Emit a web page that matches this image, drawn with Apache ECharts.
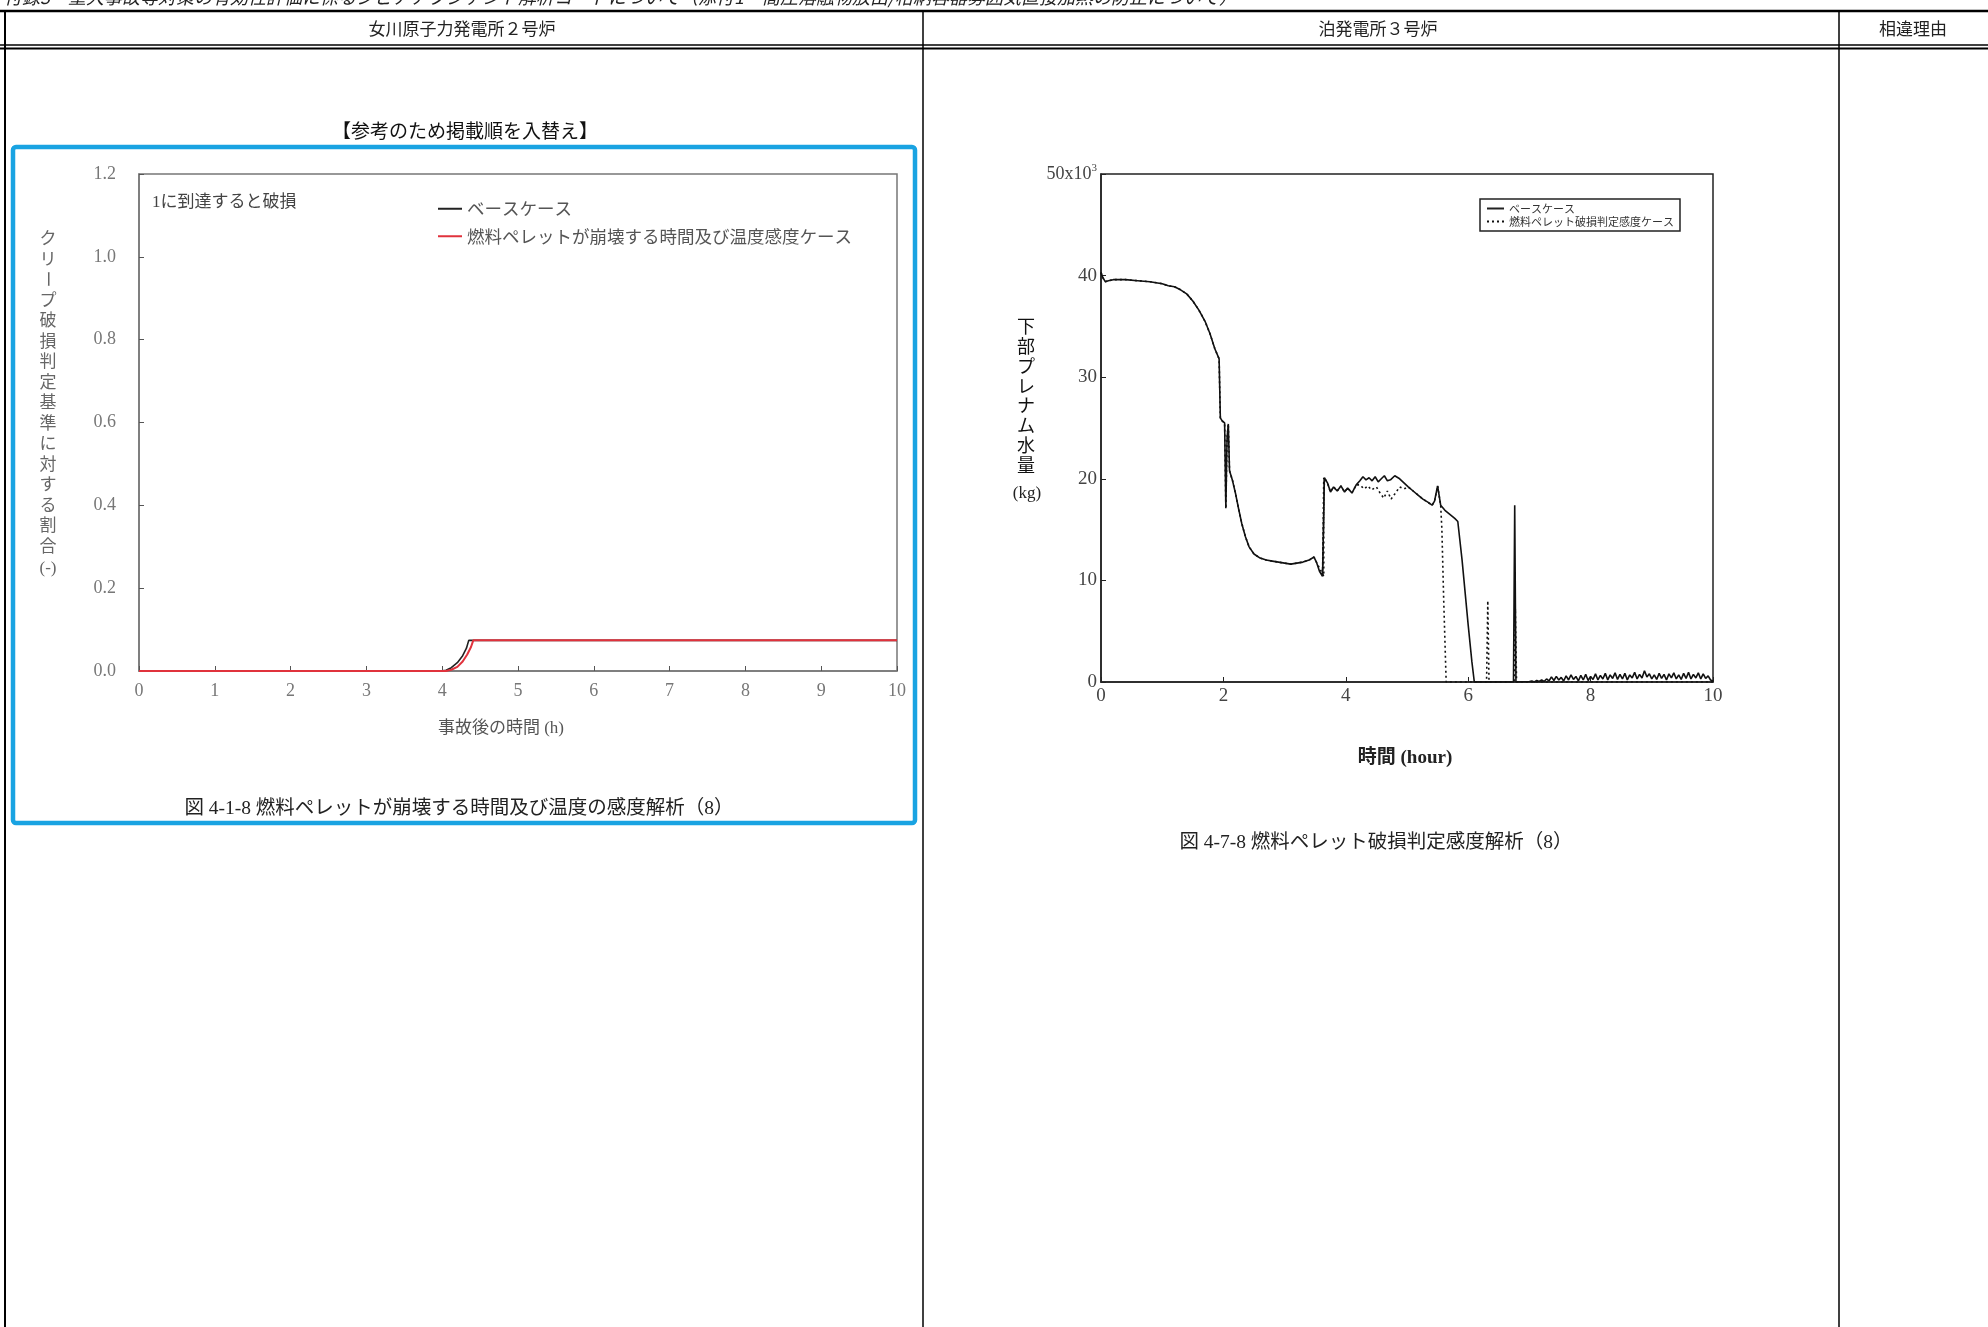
<!DOCTYPE html>
<html>
<head>
<meta charset="utf-8">
<title>燃料ペレット感度解析（8）</title>
<script src="https://cdn.jsdelivr.net/npm/echarts@6/dist/echarts.min.js"></script>
<style>
  html, body { margin: 0; padding: 0; background: #fff; }
  #main { width: 1988px; height: 1327px; }
</style>
</head>
<body>
<div id="main"></div>
<script>
// ---- 女川原子力発電所２号炉：クリープ破損判定基準に対する割合 ----
const onagawaTicksX = [0, 1, 2, 3, 4, 5, 6, 7, 8, 9, 10];
const onagawaTicksY = [0.0, 0.2, 0.4, 0.6, 0.8, 1.0, 1.2];
const onagawaBase = [
  [0, 0], [3.98, 0], [4.05, 0.002], [4.12, 0.008], [4.2, 0.02],
  [4.27, 0.037], [4.32, 0.055], [4.35, 0.074], [10, 0.074]
];
const onagawaSens = [
  [0, 0], [4.05, 0], [4.12, 0.003], [4.2, 0.01], [4.27, 0.023],
  [4.33, 0.04], [4.38, 0.058], [4.41, 0.074], [10, 0.074]
];

// ---- 泊発電所３号炉：下部プレナム水量（×10^3 kg） ----
const tomariTicksX = [0, 2, 4, 6, 8, 10];
const tomariTicksY = [0, 10, 20, 30, 40, 50];
const tomariCommon = [
  [0, 40.3], [0.03, 39.8], [0.07, 39.4], [0.12, 39.5], [0.2, 39.6], [0.4, 39.6],
  [0.6, 39.5], [0.8, 39.4], [1.0, 39.2], [1.1, 39.0], [1.2, 38.9], [1.3, 38.6],
  [1.4, 38.2], [1.5, 37.5], [1.6, 36.6], [1.7, 35.5], [1.78, 34.3], [1.86, 32.8],
  [1.93, 31.8], [1.95, 26.0], [1.98, 25.7], [2.02, 25.5], [2.04, 17.1], [2.06, 24.0],
  [2.08, 25.4], [2.1, 20.8], [2.15, 19.8], [2.2, 18.5], [2.25, 17.0], [2.3, 15.6],
  [2.36, 14.3], [2.42, 13.3], [2.5, 12.6], [2.6, 12.2], [2.7, 12.0], [2.8, 11.9],
  [2.9, 11.8], [3.0, 11.7], [3.1, 11.6], [3.2, 11.7], [3.3, 11.8], [3.4, 12.0],
  [3.48, 12.3], [3.52, 11.8], [3.57, 10.9], [3.62, 10.4], [3.65, 20.1], [3.7, 19.6],
  [3.75, 18.7], [3.8, 19.2], [3.86, 18.8], [3.92, 19.3], [3.98, 18.7], [4.03, 19.1],
  [4.1, 18.6], [4.17, 19.4]
];
const tomariBaseTail = [
  [4.23, 19.8], [4.28, 20.2], [4.33, 19.9], [4.38, 20.1], [4.43, 19.8], [4.48, 20.2],
  [4.53, 19.7], [4.58, 20.0], [4.63, 20.3], [4.68, 19.8], [4.73, 19.9], [4.8, 20.3],
  [4.88, 20.0], [4.95, 19.6], [5.02, 19.2], [5.1, 18.8], [5.18, 18.4], [5.26, 18.0],
  [5.34, 17.7], [5.41, 17.4], [5.45, 17.8], [5.5, 19.3], [5.55, 17.4], [5.62, 16.9],
  [5.7, 16.5], [5.78, 16.1], [5.83, 15.8], [5.9, 12.0], [6.0, 5.6], [6.06, 2.0],
  [6.1, 0], [6.74, 0], [6.76, 17.4], [6.78, 0], [7.0, 0.05],
  [7.04, 0.1], [7.08, 0.0], [7.12, 0.15], [7.16, 0.05], [7.2, 0.2], [7.24, 0.05],
  [7.28, 0.3], [7.32, 0.1], [7.36, 0.5], [7.4, 0.15], [7.44, 0.55], [7.48, 0.2],
  [7.52, 0.45], [7.56, 0.1], [7.6, 0.6], [7.64, 0.2], [7.68, 0.7], [7.72, 0.25],
  [7.76, 0.55], [7.8, 0.1], [7.84, 0.65], [7.88, 0.2], [7.92, 0.75], [7.96, 0.15],
  [8.0, 0.55], [8.04, 0.25], [8.08, 0.8], [8.12, 0.2], [8.16, 0.65], [8.2, 0.3],
  [8.24, 0.85], [8.28, 0.2], [8.32, 0.7], [8.36, 0.35], [8.4, 0.9], [8.44, 0.25],
  [8.48, 0.75], [8.52, 0.3], [8.56, 0.85], [8.6, 0.2], [8.64, 0.7], [8.68, 0.4],
  [8.72, 0.95], [8.76, 0.3], [8.8, 0.75], [8.84, 0.4], [8.88, 1.1], [8.92, 0.5],
  [8.96, 0.8], [9.0, 0.3], [9.04, 0.7], [9.08, 0.25], [9.12, 0.85], [9.16, 0.35],
  [9.2, 0.75], [9.24, 0.2], [9.28, 0.8], [9.32, 0.4], [9.36, 0.9], [9.4, 0.3],
  [9.44, 0.7], [9.48, 0.25], [9.52, 0.85], [9.56, 0.35], [9.6, 0.95], [9.64, 0.3],
  [9.68, 0.75], [9.72, 0.4], [9.76, 0.9], [9.8, 0.3], [9.84, 0.8], [9.88, 0.35],
  [9.92, 0.6], [9.96, 0.2], [10, 0.1]
];
const tomariSensTail = [
  [4.23, 19.4], [4.3, 19.0], [4.36, 19.3], [4.42, 18.9], [4.5, 19.2], [4.56, 18.6],
  [4.62, 18.1], [4.68, 18.8], [4.74, 18.0], [4.8, 18.5], [4.88, 19.2], [4.95, 19.0],
  [5.02, 19.2], [5.1, 18.8], [5.18, 18.4], [5.26, 18.0], [5.34, 17.7], [5.41, 17.4],
  [5.45, 17.8], [5.5, 19.3], [5.55, 17.4], [5.57, 15.0], [5.6, 8.0], [5.64, 0],
  [6.3, 0], [6.32, 8.0], [6.34, 0], [6.75, 0], [6.77, 7.2], [6.79, 0], [10, 0]
];

const nameBase = 'ベースケース';
const nameOnagawaSens = '燃料ペレットが崩壊する時間及び温度感度ケース';
const nameTomariSens = '燃料ペレット破損判定感度ケース';

const SERIF = '"Liberation Serif", "DejaVu Serif", "Noto Sans CJK JP", serif';
const JP = '"Noto Sans CJK JP", "Liberation Serif", sans-serif';

// Vertical (tategaki) label: one text element per character, long vowel mark turned upright.
function verticalText(str, x, y0, step, style) {
  return Array.from(str).map((ch, i) => ({
    type: 'text',
    x: x,
    y: y0 + i * step,
    rotation: ch === 'ー' ? -Math.PI / 2 : 0,
    style: Object.assign({ text: ch, align: 'center', verticalAlign: 'middle' }, style)
  }));
}

function txt(text, x, y, size, color, extra) {
  return {
    type: 'text', x: x, y: y,
    style: Object.assign({
      text: text, align: 'center', verticalAlign: 'middle',
      fontSize: size, fontFamily: JP, fill: color
    }, extra || {})
  };
}

function line(x1, y1, x2, y2, w) {
  return { type: 'line', shape: { x1, y1, x2, y2 }, style: { stroke: '#000', lineWidth: w } };
}

const graphics = [
  // page header and table rules
  txt('付録3　重大事故等対策の有効性評価に係るシビアアクシデント解析コードについて（添付1　高圧溶融物放出/格納容器雰囲気直接加熱の防止について）',
      4, -3, 18, '#222', { align: 'left', fontStyle: 'italic' }),
  line(0, 11, 1988, 11, 2.5),
  line(0, 45, 1988, 45, 1.5),
  line(0, 48.5, 1988, 48.5, 2),
  line(5, 11, 5, 1327, 2),
  line(923, 11, 923, 1327, 1.5),
  line(1839, 11, 1839, 1327, 1.5),
  txt('女川原子力発電所２号炉', 462, 29, 17, '#222'),
  txt('泊発電所３号炉', 1378, 29, 17, '#222'),
  txt('相違理由', 1913, 29, 17, '#222'),

  // left column
  txt('【参考のため掲載順を入替え】', 465, 131, 19, '#111'),
  { type: 'rect', shape: { x: 13, y: 147, width: 902, height: 676, r: 3 },
    style: { fill: 'none', stroke: '#19a3e2', lineWidth: 4.5 } },
  txt('1に到達すると破損', 152, 203, 17, '#444', { align: 'left', fontFamily: SERIF }),
  txt('事故後の時間 (h)', 501, 729, 17, '#555', { fontFamily: SERIF }),
  txt('(-)', 48, 569, 17, '#666', { fontFamily: SERIF }),
  txt('図 4-1-8 燃料ペレットが崩壊する時間及び温度の感度解析（8）', 459, 809, 19.5, '#222', { fontFamily: SERIF }),

  // right column
  txt('(kg)', 1027, 494, 17, '#222', { fontFamily: SERIF }),
  txt('時間 (hour)', 1405, 758, 19, '#222', { fontFamily: SERIF, fontWeight: 'bold' }),
  txt('図 4-7-8 燃料ペレット破損判定感度解析（8）', 1376, 843, 19.5, '#222', { fontFamily: SERIF })
].concat(
  verticalText('クリープ破損判定基準に対する割合', 48, 238, 20.5,
    { fontSize: 17, fontFamily: JP, fill: '#666' }),
  verticalText('下部プレナム水量', 1026, 326, 19.9,
    { fontSize: 18, fontFamily: JP, fill: '#111' })
);

const chart = echarts.init(document.getElementById('main'), null, { renderer: 'canvas' });

const option = {
  backgroundColor: '#fff',
  animation: false,
  grid: [
    { left: 139, top: 174, width: 758, height: 497, show: true,
      borderColor: '#777', borderWidth: 1.5, backgroundColor: 'transparent' },
    { left: 1101, top: 174, width: 612, height: 508, show: true,
      borderColor: '#222', borderWidth: 1.5, backgroundColor: 'transparent' }
  ],
  xAxis: [
    { type: 'value', gridIndex: 0,
      min: onagawaTicksX[0], max: onagawaTicksX[onagawaTicksX.length - 1],
      interval: onagawaTicksX[1] - onagawaTicksX[0],
      axisLine: { show: true, onZero: false, lineStyle: { color: '#777', width: 1.5 } },
      axisTick: { show: true, inside: true, length: 5, lineStyle: { color: '#555' } },
      splitLine: { show: false },
      axisLabel: { color: '#777', fontSize: 18, fontFamily: SERIF, margin: 11 } },
    { type: 'value', gridIndex: 1,
      min: tomariTicksX[0], max: tomariTicksX[tomariTicksX.length - 1],
      interval: tomariTicksX[1] - tomariTicksX[0],
      axisLine: { show: true, onZero: false, lineStyle: { color: '#222', width: 1.5 } },
      axisTick: { show: true, inside: true, length: 5, lineStyle: { color: '#222' } },
      splitLine: { show: false },
      axisLabel: { color: '#444', fontSize: 19, fontFamily: SERIF, margin: 5 } }
  ],
  yAxis: [
    { type: 'value', gridIndex: 0,
      min: onagawaTicksY[0], max: onagawaTicksY[onagawaTicksY.length - 1],
      interval: 0.2,
      axisLine: { show: true, onZero: false, lineStyle: { color: '#777', width: 1.5 } },
      axisTick: { show: true, inside: true, length: 5, lineStyle: { color: '#555' } },
      splitLine: { show: false },
      axisLabel: { color: '#777', fontSize: 18, fontFamily: SERIF, margin: 23,
        formatter: v => v.toFixed(1) } },
    { type: 'value', gridIndex: 1,
      min: tomariTicksY[0], max: tomariTicksY[tomariTicksY.length - 1],
      interval: tomariTicksY[1] - tomariTicksY[0],
      axisLine: { show: true, onZero: false, lineStyle: { color: '#222', width: 1.5 } },
      axisTick: { show: true, inside: true, length: 5, lineStyle: { color: '#222' } },
      splitLine: { show: false },
      axisLabel: { color: '#444', fontSize: 19, fontFamily: SERIF, margin: 4,
        formatter: v => v === 50 ? '{m|50x10}{s|3}' : String(v),
        rich: {
          m: { fontSize: 18, fontFamily: SERIF, color: '#444' },
          s: { fontSize: 11, fontFamily: SERIF, color: '#444', verticalAlign: 'top', padding: [0, 0, 12, 0] }
        } } }
  ],
  legend: [
    { orient: 'vertical', left: 432, top: 195, itemWidth: 24, itemHeight: 2, itemGap: 10,
      selectedMode: false,
      itemStyle: { opacity: 0 },
      data: [nameBase, nameOnagawaSens],
      textStyle: { fontSize: 17.5, color: '#555', fontFamily: JP } },
    { orient: 'vertical', left: 1480, top: 199, itemWidth: 17, itemHeight: 2, itemGap: 0,
      selectedMode: false,
      itemStyle: { opacity: 0 },
      padding: [3, 6, 3, 6],
      borderColor: '#222', borderWidth: 1.5,
      data: [nameBase, nameTomariSens],
      textStyle: { fontSize: 11, color: '#333', fontFamily: JP, lineHeight: 13 } }
  ],
  series: [
    { name: nameBase, type: 'line', xAxisIndex: 0, yAxisIndex: 0,
      data: onagawaBase, symbol: 'none', showSymbol: false,
      lineStyle: { color: '#222', width: 1.6 }, itemStyle: { color: '#222' } },
    { name: nameOnagawaSens, type: 'line', xAxisIndex: 0, yAxisIndex: 0,
      data: onagawaSens, symbol: 'none', showSymbol: false,
      lineStyle: { color: '#e0323c', width: 2 }, itemStyle: { color: '#e0323c' } },
    { name: nameTomariSens, type: 'line', xAxisIndex: 1, yAxisIndex: 1,
      data: tomariCommon.slice(0, 44).concat([[3.64, 10.4], [3.64, 20.1]], tomariCommon.slice(45), tomariSensTail),
      symbol: 'none', showSymbol: false,
      lineStyle: { color: '#111', width: 1.6, type: [2, 3] }, itemStyle: { color: '#111' } },
    { name: nameBase, type: 'line', xAxisIndex: 1, yAxisIndex: 1,
      data: tomariCommon.concat(tomariBaseTail),
      symbol: 'none', showSymbol: false,
      lineStyle: { color: '#111', width: 1.6 }, itemStyle: { color: '#111' } }
  ],
  graphic: graphics
};

chart.setOption(option);
</script>
</body>
</html>
